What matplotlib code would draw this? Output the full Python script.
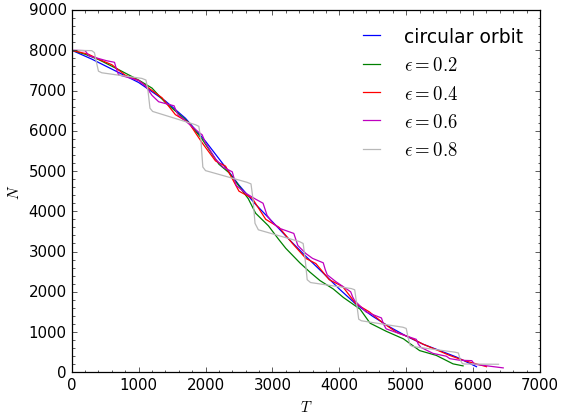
import matplotlib
matplotlib.use("Agg")
import matplotlib.pyplot as plt
from matplotlib.ticker import MultipleLocator

plt.style.use("classic")

# particle number N against time T for the different orbits
T_circ = [0, 300, 650, 1000, 1400, 1700, 2000, 2250, 2500, 2750, 3000, 3250,
          3500, 3750, 4000, 4250, 4500, 4750, 5000, 5250, 5500, 5750, 6050]
N_circ = [8000, 7780, 7490, 7200, 6740, 6310, 5740, 5200, 4650, 4170, 3740, 3300,
          2880, 2480, 2070, 1690, 1390, 1130, 900, 700, 540, 380, 140]

T_e02 = [0, 200, 400, 700, 1000, 1200, 1400, 1600, 1750, 1950, 2200, 2350, 2450,
         2640, 2750, 2940, 3090, 3200, 3410, 3560, 3710, 3910, 4060, 4310, 4460,
         4700, 4960, 5200, 5450, 5700, 5850]
N_e02 = [8000, 7900, 7770, 7520, 7260, 7060, 6700, 6420, 6200, 5790, 5170, 4960, 4740,
         4310, 3950, 3640, 3310, 3080, 2720, 2490, 2280, 2070, 1860, 1570, 1220,
         1020, 830, 540, 420, 210, 160]

T_e04 = [0, 250, 400, 600, 800, 1000, 1150, 1350, 1550, 1750, 1950, 2150, 2300,
         2500, 2700, 2900, 3100, 3300, 3500, 3650, 3850, 4050, 4250, 4450, 4650,
         4850, 5050, 5250, 5450, 5650, 5850, 6200]
N_e04 = [8000, 7900, 7780, 7640, 7380, 7250, 7060, 6820, 6400, 6200, 5700, 5250, 5120,
         4500, 4320, 3800, 3600, 3200, 2830, 2700, 2300, 2130, 1700, 1500, 1230,
         1000, 870, 700, 560, 420, 300, 140]

T_e06 = [0, 200, 260, 520, 640, 665, 700, 1000, 1100, 1200, 1300, 1530, 1560, 1590,
         1900, 1950, 2000, 2150, 2260, 2400, 2430, 2460, 2600, 2750, 2860, 2890,
         2920, 3000, 3100, 3320, 3350, 3380, 3500, 3600, 3760, 3790, 3820, 3950,
         4170, 4200, 4230, 4400, 4630, 4660, 4700, 4900, 5150, 5180, 5220, 5400,
         5600, 5650, 5800, 5980, 6020, 6450]
N_e06 = [8000, 7990, 7860, 7740, 7700, 7550, 7390, 7250, 7120, 6880, 6720, 6620, 6500, 6400,
         5960, 5900, 5700, 5300, 5100, 4980, 4800, 4640, 4450, 4300, 4200, 4050,
         3900, 3720, 3580, 3450, 3300, 3150, 2950, 2830, 2720, 2550, 2420, 2250,
         2000, 1870, 1780, 1500, 1350, 1200, 1080, 960, 820, 700, 620, 470,
         400, 340, 300, 290, 200, 110]

T_e08 = [0, 300, 340, 370, 400, 450, 1050, 1110, 1140, 1170, 1210, 1850, 1900, 1930,
         1960, 2000, 2620, 2680, 2710, 2740, 2790, 3400, 3460, 3490, 3520, 3570,
         4180, 4230, 4260, 4290, 4330, 4950, 5000, 5030, 5060, 5100, 5730, 5780,
         5810, 5840, 5880, 6380]
N_e08 = [8000, 7990, 7940, 7700, 7480, 7440, 7300, 7260, 7000, 6560, 6480, 6150, 6110, 5800,
         5100, 5010, 4720, 4680, 4300, 3700, 3540, 3250, 3200, 2800, 2300, 2230,
         2080, 2050, 1700, 1320, 1280, 1120, 1090, 850, 670, 640, 500, 480,
         300, 215, 206, 200]

labels = ["circular orbit", r"$\epsilon=0.2$", r"$\epsilon=0.4$",
          r"$\epsilon=0.6$", r"$\epsilon=0.8$"]
colors = ["b", "g", "r", "m", "0.72"]

fig = plt.figure(figsize=(561 / 90, 416 / 90), dpi=90, facecolor="white")
ax = fig.add_axes([0.1278, 0.1026, 0.8348, 0.871])

curves = [(T_circ, N_circ), (T_e02, N_e02), (T_e04, N_e04),
          (T_e06, N_e06), (T_e08, N_e08)]
for (t, n), lab, col in zip(curves, labels, colors):
    ax.plot(t, n, color=col, lw=1.0, label=lab)

ax.set_xlim(0, 7000)
ax.set_ylim(0, 9000)
ax.xaxis.set_minor_locator(MultipleLocator(200))
ax.yaxis.set_minor_locator(MultipleLocator(200))
ax.tick_params(which="major", length=4)
ax.tick_params(which="minor", length=2)
ax.set_xlabel("$T$")
ax.set_ylabel("$N$")

ax.legend(loc="upper right", frameon=False, fontsize=15, handlelength=1.5,
          handletextpad=1.0, labelspacing=0.5)

fig.savefig("out.png", dpi=90, facecolor="white")
